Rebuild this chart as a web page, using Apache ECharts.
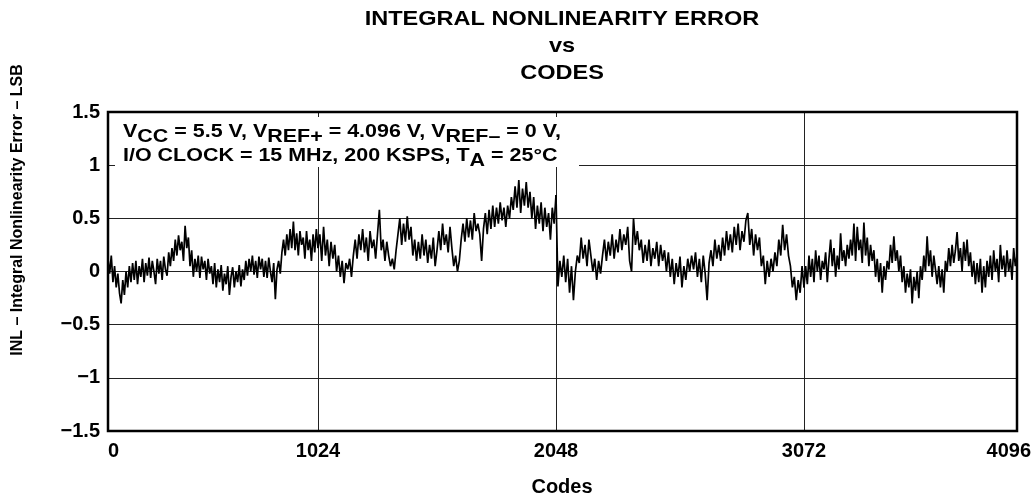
<!DOCTYPE html>
<html><head><meta charset="utf-8">
<script src="https://cdn.jsdelivr.net/npm/echarts@6/dist/echarts.min.js"></script>
<style>html,body{margin:0;padding:0;background:#fff}#c{width:1034px;height:497px}</style>
</head><body><div id="c"></div>
<script>
const STEP = 8;
const inl0 = [0.12,-0.02,0.15,-0.1,0.05,-0.15,-0.02,-0.2,
 -0.3,-0.08,-0.22,0.0,-0.15,0.05,-0.1,0.08,
 -0.08,0.1,-0.12,0.05,-0.05,0.12,-0.1,0.08,
 -0.04,0.13,-0.06,0.1,0.0,-0.12,0.12,-0.02,
 0.1,-0.08,0.14,0.02,-0.04,0.18,0.05,0.22,
 0.1,0.3,0.15,0.34,0.2,0.28,0.1,0.43,
 0.22,0.32,0.05,0.2,-0.05,0.12,0.0,0.15,
 -0.06,0.14,0.02,0.1,-0.08,0.12,-0.02,0.05,
 -0.12,0.08,-0.15,0.02,-0.1,0.06,-0.18,-0.02,
 -0.12,0.05,-0.22,-0.05,0.04,-0.15,0.0,-0.1,
 0.06,-0.14,0.02,-0.08,0.1,-0.04,0.12,0.0,
 0.15,-0.03,0.1,-0.06,0.14,0.02,0.12,-0.05,
 0.1,-0.06,0.13,0.0,-0.1,0.08,-0.26,0.02,
 0.1,-0.02,0.18,0.3,0.15,0.35,0.2,0.4,
 0.22,0.47,0.2,0.36,0.15,0.38,0.25,0.32,
 0.12,0.38,0.2,0.3,0.1,0.35,0.18,0.4,
 0.22];
const inl1 = [0.22,
 0.35,0.1,0.42,0.15,0.3,0.05,0.28,0.12,
 0.25,0.0,0.15,-0.05,0.1,-0.11,0.08,0.02,
 0.12,-0.05,0.15,0.3,0.12,0.35,0.2,0.4,
 0.18,0.32,0.1,0.38,0.22,0.3,0.12,0.35,
 0.58,0.2,0.3,0.1,0.28,0.15,0.05,0.12,
 0.02,0.2,0.35,0.5,0.25,0.45,0.28,0.52,
 0.3,0.42,0.15,0.3,0.1,0.28,0.12,0.35,
 0.15,0.3,0.08,0.25,0.12,0.32,0.05,0.2,
 0.38,0.2,0.45,0.25,0.35,0.18,0.42,0.22,
 0.05,0.15,0.0,0.1,0.3,0.45,0.28,0.5,
 0.32,0.48,0.3,0.55,0.38,0.45,0.35,0.1,
 0.4,0.55,0.35,0.58,0.4,0.62,0.42,0.6,
 0.45,0.65,0.48,0.6,0.42,0.62,0.5,0.7,
 0.58,0.8,0.6,0.86,0.55,0.78,0.62,0.84,
 0.6,0.75,0.5,0.7,0.4,0.62,0.45,0.65,
 0.38,0.6,0.42,0.55,0.3,0.6,0.45,0.72];
const inl2 = [0.72,
 -0.14,0.1,-0.05,0.15,-0.1,0.12,-0.2,0.05,
 -0.27,0.0,0.15,0.08,0.32,0.12,0.25,0.05,
 0.3,0.15,0.0,0.12,-0.08,0.1,-0.02,0.15,
 0.3,0.1,0.28,0.15,0.35,0.12,0.3,0.18,
 0.4,0.2,0.35,0.25,0.42,0.1,0.0,0.5,
 0.25,0.38,0.2,0.3,0.08,0.25,0.1,0.3,
 0.05,0.22,0.12,0.28,0.05,0.25,0.1,0.2,
 0.0,0.18,-0.05,0.12,-0.12,0.08,-0.05,0.14,
 -0.15,0.05,-0.08,0.12,0.0,0.15,0.02,0.18,
 -0.05,0.12,-0.1,0.15,-0.02,-0.27,0.08,0.2,
 0.05,0.3,0.12,0.25,0.1,0.32,0.15,0.38,
 0.2,0.35,0.18,0.42,0.25,0.45,0.2,0.38,
 0.28,0.48,0.55,0.25,0.4,0.15,0.35,0.2,
 0.32,0.05,0.15,-0.12,0.1,-0.05,0.12,0.0,
 0.18,0.05,0.3,0.15,0.44,0.2,0.35,0.15,
 0.05,-0.15,-0.05,-0.27,-0.08,-0.2,0.05,-0.15];
const inl3 = [-0.15,
 0.05,-0.12,0.15,-0.05,0.12,-0.1,0.2,0.0,
 0.15,-0.08,0.1,0.02,0.18,-0.1,0.12,0.3,
 0.05,0.22,-0.05,0.15,0.02,0.36,0.1,0.2,
 0.05,0.25,0.12,0.3,0.15,0.45,0.1,0.42,
 0.2,0.3,0.08,0.46,0.15,0.32,0.05,0.25,
 0.1,0.2,-0.05,0.12,-0.1,0.08,-0.2,0.05,
 -0.08,0.1,0.02,0.25,0.08,0.33,0.1,0.2,
 0.0,0.15,-0.1,0.05,-0.2,-0.02,-0.15,0.02,
 -0.3,-0.05,-0.18,0.0,-0.25,0.05,-0.08,0.15,
 0.0,0.33,0.05,0.2,-0.05,0.15,0.02,-0.12,
 0.05,-0.15,0.02,-0.2,0.1,0.0,0.22,0.05,
 0.25,0.08,0.2,0.37,0.1,0.22,0.0,0.28,
 0.1,0.3,0.05,0.18,-0.05,0.1,-0.12,0.08,
 -0.1,0.12,-0.2,0.05,-0.15,0.1,-0.05,0.15,
 -0.08,0.2,0.0,0.12,-0.1,0.25,0.02,0.15,
 -0.05,0.2,0.0,0.12,-0.08,0.22,0.05,0.15];
const segStarts = [0, 1024, 2048, 3072];
const xTickLabels = ['0', '1024', '2048', '3072', '4096'];
const yTickLabels = ['\u22121.5', '\u22121', '\u22120.5', '0', '0.5', '1', '1.5'];
const yTickValues = [-1.5, -1, -0.5, 0, 0.5, 1, 1.5];

const segVals = [inl0, inl1, inl2, inl3];
const segLeft = [108, 318, 556, 804];
const segWidth = [210, 238, 248, 213];
const TOP = 112, H = 319;
const FONT = 'Liberation Sans, Arial, sans-serif';

const grids = [], xAxes = [], yAxes = [], series = [];
segVals.forEach((vals, i) => {
  grids.push({left: segLeft[i], top: TOP, width: segWidth[i], height: H, show: false});
  xAxes.push({
    type: 'value', gridIndex: i, min: segStarts[i], max: segStarts[i] + 1024, interval: 1024,
    axisLine: {show: false}, axisTick: {show: false}, splitLine: {show: false},
    axisLabel: {
      showMinLabel: i === 0, showMaxLabel: true, margin: 10,
      fontFamily: FONT, fontWeight: 'bold', fontSize: 20, color: '#000',
      alignMinLabel: 'left', alignMaxLabel: i === 3 ? 'right' : 'center',
      padding: i === 3 ? [0, -14, 0, 0] : 0,
      formatter: v => xTickLabels[Math.round(v / 1024)]
    }
  });
  yAxes.push({
    type: 'value', gridIndex: i, min: -1.5, max: 1.5, interval: 0.5,
    axisLine: {show: i > 0, lineStyle: {color: '#222', width: 1}},
    axisTick: {show: false},
    splitLine: {show: true, lineStyle: {color: '#222', width: 1}},
    axisLabel: {
      show: i === 0, margin: 8, fontFamily: FONT, fontWeight: 'bold', fontSize: 20, color: '#000',
      formatter: v => yTickLabels[yTickValues.indexOf(v)]
    }
  });
  series.push({
    type: 'line', xAxisIndex: i, yAxisIndex: i, showSymbol: false, animation: false,
    lineStyle: {color: '#000', width: 1.7}, z: 5,
    data: vals.map((v, k) => [segStarts[i] + k * STEP, v])
  });
});
// frame
grids.push({left: 108, top: TOP, width: 909, height: H, show: true, borderColor: '#000', borderWidth: 2.5, backgroundColor: 'transparent', z: 10});
xAxes.push({type: 'value', gridIndex: 4, show: false, min: 0, max: 4096});
yAxes.push({type: 'value', gridIndex: 4, show: false, min: -1.5, max: 1.5});

const chart = echarts.init(document.getElementById('c'), null, {renderer: 'canvas'});
chart.setOption({
  animation: false,
  backgroundColor: '#fff',
  grid: grids, xAxis: xAxes, yAxis: yAxes, series: series,
  graphic: [
    {type: 'text', x: 562, y: 6, scaleX: 1.12, z: 20, style: {
      text: 'INTEGRAL NONLINEARITY ERROR\nvs\nCODES', textAlign: 'center', textVerticalAlign: 'top',
      font: 'bold 21px ' + FONT, lineHeight: 27, fill: '#000'}},
    {type: 'text', x: 562, y: 487, z: 20, style: {
      text: 'Codes', textAlign: 'center', textVerticalAlign: 'middle', font: 'bold 20px ' + FONT, fill: '#000'}},
    {type: 'text', x: 18, y: 210, rotation: Math.PI / 2, z: 20, style: {
      text: 'INL \u2013 Integral Nonlinearity Error \u2013 LSB', textAlign: 'center', textVerticalAlign: 'middle',
      font: 'bold 16px ' + FONT, fill: '#000'}},
    {type: 'rect', z: 15, shape: {x: 115, y: 117, width: 464, height: 50}, style: {fill: '#fff'}},
    {type: 'text', x: 123, y: 120, scaleX: 1.13, z: 20, style: {
      text: '{m|V}{s|CC}{m| = 5.5 V, V}{s|REF+}{m| = 4.096 V, V}{s|REF\u2013}{m| = 0 V,}\n{m|I/O CLOCK = 15 MHz, 200 KSPS, T}{s|A}{m| = 25\u00b0C}',
      textAlign: 'left', textVerticalAlign: 'top',
      rich: {
        m: {fontFamily: FONT, fontWeight: 'bold', fontSize: 19, fill: '#000', lineHeight: 24},
        s: {fontFamily: FONT, fontWeight: 'bold', fontSize: 19, fill: '#000', lineHeight: 24, padding: [10, 0, 0, 0]}
      }}}
  ]
});
</script></body></html>
